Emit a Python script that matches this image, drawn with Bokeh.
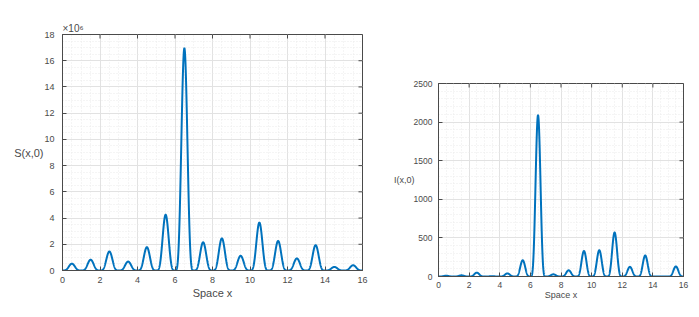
import numpy as np
from bokeh.plotting import figure
from bokeh.models import Range1d, FixedTicker, Title
from bokeh.embed import file_html
from bokeh.resources import INLINE
from bokeh.core.templates import get_env

# ---- data ----
cell_centers = [0.5, 1.5, 2.5, 3.5, 4.5, 5.5, 6.5, 7.5, 8.5, 9.5, 10.5, 11.5, 12.5, 13.5, 14.5, 15.5]
S_peaks_e6 = [0.52, 0.82, 1.45, 0.68, 1.78, 4.25, 16.95, 2.15, 2.45, 1.12, 3.65, 2.25, 0.92, 1.93, 0.27, 0.40]
I_peaks = [10, 15, 50, 4, 40, 210, 2090, 28, 80, 330, 340, 570, 125, 272, 0, 130]
x_ticks = [0, 2, 4, 6, 8, 10, 12, 14, 16]
S_ticks = [0, 2, 4, 6, 8, 10, 12, 14, 16, 18]
I_ticks = [0, 500, 1000, 1500, 2000, 2500]

FONT = "Liberation Sans"
TXT = "#4a4a4a"
AX = "#4a4a4a"
BLUE = "#0072BD"

x = np.linspace(0, 16, 3201)


def profile(peaks):
    idx = np.clip(np.floor(x).astype(int), 0, len(peaks) - 1)
    amp = np.asarray(peaks, dtype=float)[idx]
    return amp * np.sin(np.pi * x) ** 4


def style_axis(ax, tick_fs, standoff):
    ax.axis_line_color = AX
    ax.axis_line_width = 1
    ax.major_tick_line_color = AX
    ax.minor_tick_line_color = None
    ax.major_tick_in = 4
    ax.major_tick_out = 0
    ax.major_label_text_font = FONT
    ax.major_label_text_color = TXT
    ax.major_label_text_font_size = tick_fs
    ax.major_label_standoff = standoff


def make_fig(peaks, ymax, yticks, yminor, width, height, bl, br, bt, bb, fw, fh,
             ylabel, tick_fs, lab_fs, xtick_so, ytick_so, xlab_so, ylab_so):
    p = figure(width=width, height=height, x_range=Range1d(0, 16), y_range=Range1d(0, ymax),
               output_backend="svg", toolbar_location=None,
               min_border_left=bl, min_border_right=br, min_border_top=bt, min_border_bottom=bb)
    p.outline_line_color = AX
    p.background_fill_color = "white"
    p.border_fill_color = "white"
    xt = FixedTicker(ticks=x_ticks, minor_ticks=list(np.arange(0, 16.001, 0.5)))
    yt = FixedTicker(ticks=yticks, minor_ticks=list(np.arange(0, ymax + 1e-9, yminor)))
    p.xaxis.ticker = xt
    p.yaxis.ticker = yt
    style_axis(p.xaxis[0], tick_fs, xtick_so)
    style_axis(p.yaxis[0], tick_fs, ytick_so)
    p.xaxis.axis_label = "Space x"
    p.yaxis.axis_label = ylabel
    p.yaxis.axis_label_orientation = "horizontal"
    for ax, so in ((p.xaxis[0], xlab_so), (p.yaxis[0], ylab_so)):
        ax.axis_label_text_font = FONT
        ax.axis_label_text_font_style = "normal"
        ax.axis_label_text_font_size = lab_fs
        ax.axis_label_text_color = TXT
        ax.axis_label_standoff = so
    for g in (p.xgrid, p.ygrid):
        g.grid_line_color = "#e2e2e2"
        g.grid_line_width = 1
        g.minor_grid_line_color = "#ebebeb"
        g.minor_grid_line_dash = "1 2"
    # inward ticks on the top and right edges of the box
    tx = 4 * 16 / fw
    ty = 4 * ymax / fh
    xs = np.asarray(x_ticks, dtype=float)
    ys = np.asarray(yticks, dtype=float)
    p.segment(x0=xs, y0=np.full(len(xs), ymax), x1=xs, y1=np.full(len(xs), ymax - ty),
              line_color=AX, line_width=1)
    p.segment(x0=np.full(len(ys), 16.0), y0=ys, x1=np.full(len(ys), 16 - tx), y1=ys,
              line_color=AX, line_width=1)
    p.line(x, profile(peaks), line_color=BLUE, line_width=2)
    return p


p1 = make_fig(S_peaks_e6, 18, S_ticks, 0.5, 386, 317, 62, 24, 34, 47, 300, 236,
              "S(x,0)", "9px", "11px", 2, 4, 1, -2)
t1 = Title(text="×10⁶", align="left", text_font=FONT, text_font_size="10px",
           text_color=TXT, text_font_style="normal", offset=0, standoff=1)
p1.add_layout(t1, "above")

p2 = make_fig(I_peaks, 2500, I_ticks, 100, 313, 317, 52, 16, 83, 41, 245, 193,
              "I(x,0)", "8.5px", "9px", 1, 2, -1, -4)

tmpl = get_env().from_string("""{% extends "file.html" %}
{% block contents %}
<div style="display:flex;flex-direction:row;align-items:flex-start;">
{% for doc in docs %}{% for root in doc.roots %}
{{ embed(root) }}
{% endfor %}{% endfor %}
</div>
{% endblock %}""")

open("out.html", "w").write(file_html([p1, p2], INLINE, template=tmpl))
